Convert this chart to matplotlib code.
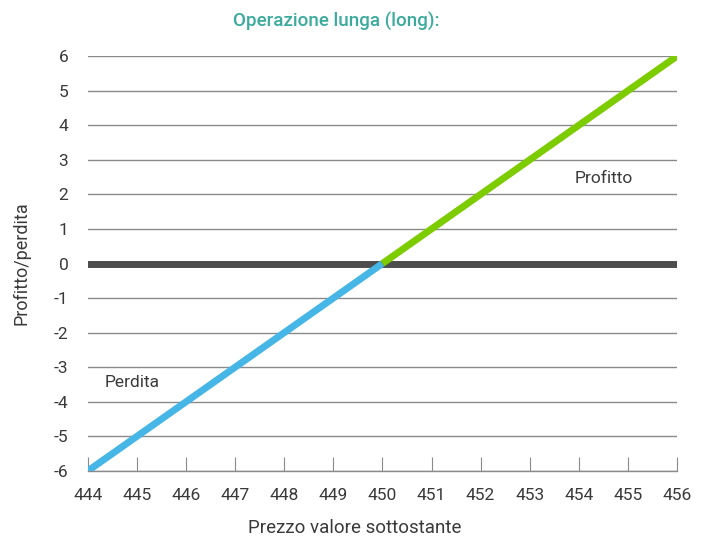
import numpy as np
import matplotlib.pyplot as plt

# Data
prezzo = [444, 445, 446, 447, 448, 449, 450, 451, 452, 453, 454, 455, 456]
profitto = [-6, -5, -4, -3, -2, -1, 0, 1, 2, 3, 4, 5, 6]
y_ticks = [6, 5, 4, 3, 2, 1, 0, -1, -2, -3, -4, -5, -6]

plt.rcParams['font.family'] = ['Roboto', 'DejaVu Sans']
plt.rcParams['axes.unicode_minus'] = False

fig = plt.figure(figsize=(7.03, 5.45), dpi=100)
ax = fig.add_axes([0.125, 0.136, 0.838, 0.761])

# horizontal grid lines
for y in y_ticks:
    if y == 0:
        continue
    ax.axhline(y, color='#8a8a8a', lw=1.0, zorder=1)
ax.axhline(0, color='#4d4d4d', lw=5, zorder=2)

# payoff line: loss part and profit part
ax.plot(prezzo[:7], profitto[:7], color='#45b6e6', lw=5, solid_capstyle='butt', zorder=3)
ax.plot(prezzo[6:], profitto[6:], color='#7ccc00', lw=5, solid_capstyle='butt', zorder=3)

txt_col = '#3a3a3a'
ax.text(453.92, 2.45, 'Profitto', fontsize=12.5, color=txt_col, va='center', ha='left')
ax.text(444.35, -3.45, 'Perdita', fontsize=12.5, color=txt_col, va='center', ha='left')

ax.set_xlim(444, 456)
ax.set_ylim(-6, 6)
ax.set_xticks(prezzo)
ax.set_yticks(y_ticks)

for s in ['left', 'right', 'top']:
    ax.spines[s].set_visible(False)
ax.spines['bottom'].set_color('#8a8a8a')
ax.spines['bottom'].set_linewidth(1.0)
ax.tick_params(axis='x', direction='in', length=10, color='#8a8a8a', labelsize=12.5,
               labelcolor=txt_col, pad=12)
ax.tick_params(axis='y', length=0, labelsize=12.5, labelcolor=txt_col, pad=14)

fig.text(0.504, 0.015, 'Prezzo valore sottostante', fontsize=13.5, color=txt_col,
         ha='center', va='bottom')
ax.set_ylabel('Profitto/perdita', fontsize=13, color=txt_col, labelpad=17)
fig.text(0.478, 0.96, 'Operazione lunga (long):', fontsize=13.5, fontweight='medium',
         color='#3aab9c', ha='center', va='center')

fig.savefig('out.png', dpi=100)
